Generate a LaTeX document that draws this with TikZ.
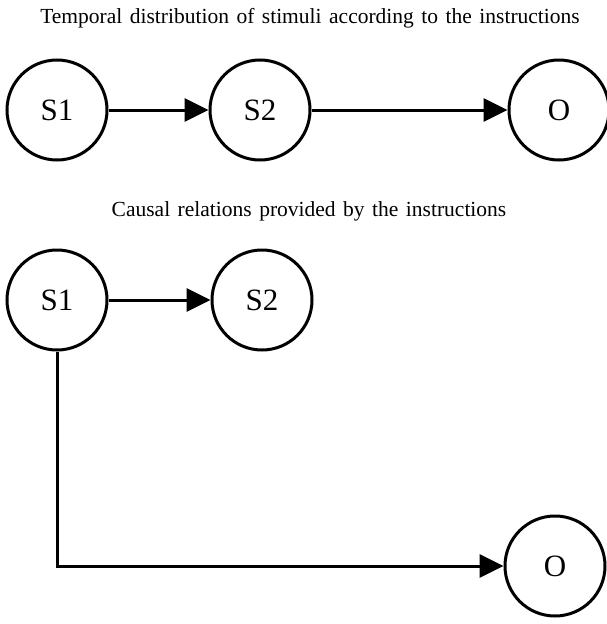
\documentclass[tikz,border=0pt]{standalone}
\usepackage{fontspec}
\setmainfont{Liberation Serif}
\usetikzlibrary{arrows.meta}
\newcommand{\titlefont}{\fontsize{21.5}{23}\selectfont\spaceskip=7.5pt\relax}

\begin{document}
\begin{tikzpicture}[
    x=1pt, y=-1pt,
    stim/.style={circle, draw, line width=3pt, minimum size=100pt, inner sep=0pt, font=\fontsize{31}{32}\selectfont},
    title/.style={font=\titlefont},
    arrow/.style={line width=3pt, -{Triangle[length=24pt,width=23pt]}}
]
\useasboundingbox (0,0) rectangle (607,624);

% Titles
\node[title] (t1) at (310,18) {Temporal distribution of stimuli according to the instructions};
\node[title] (t2) at (309,211) {Causal relations provided by the instructions};

% Nodes - temporal order
\node[stim] (ts1) at (57,110) {S1};
\node[stim, right of=ts1, node distance=203pt] (ts2) {S2};
\node[stim, right of=ts2, node distance=299pt] (to) {O};

% Nodes - causal relations
\node[stim] (cs1) at (57,300) {S1};
\node[stim, right of=cs1, node distance=205pt] (cs2) {S2};
\node[stim] (co) at (555,566) {O};

% Arrows
\draw[arrow] (ts1) -- (ts2);
\draw[arrow] (ts2) -- (to);
\draw[arrow] (cs1) -- (cs2);
\draw[arrow] (cs1.south) |- (co.west);

\end{tikzpicture}
\end{document}
